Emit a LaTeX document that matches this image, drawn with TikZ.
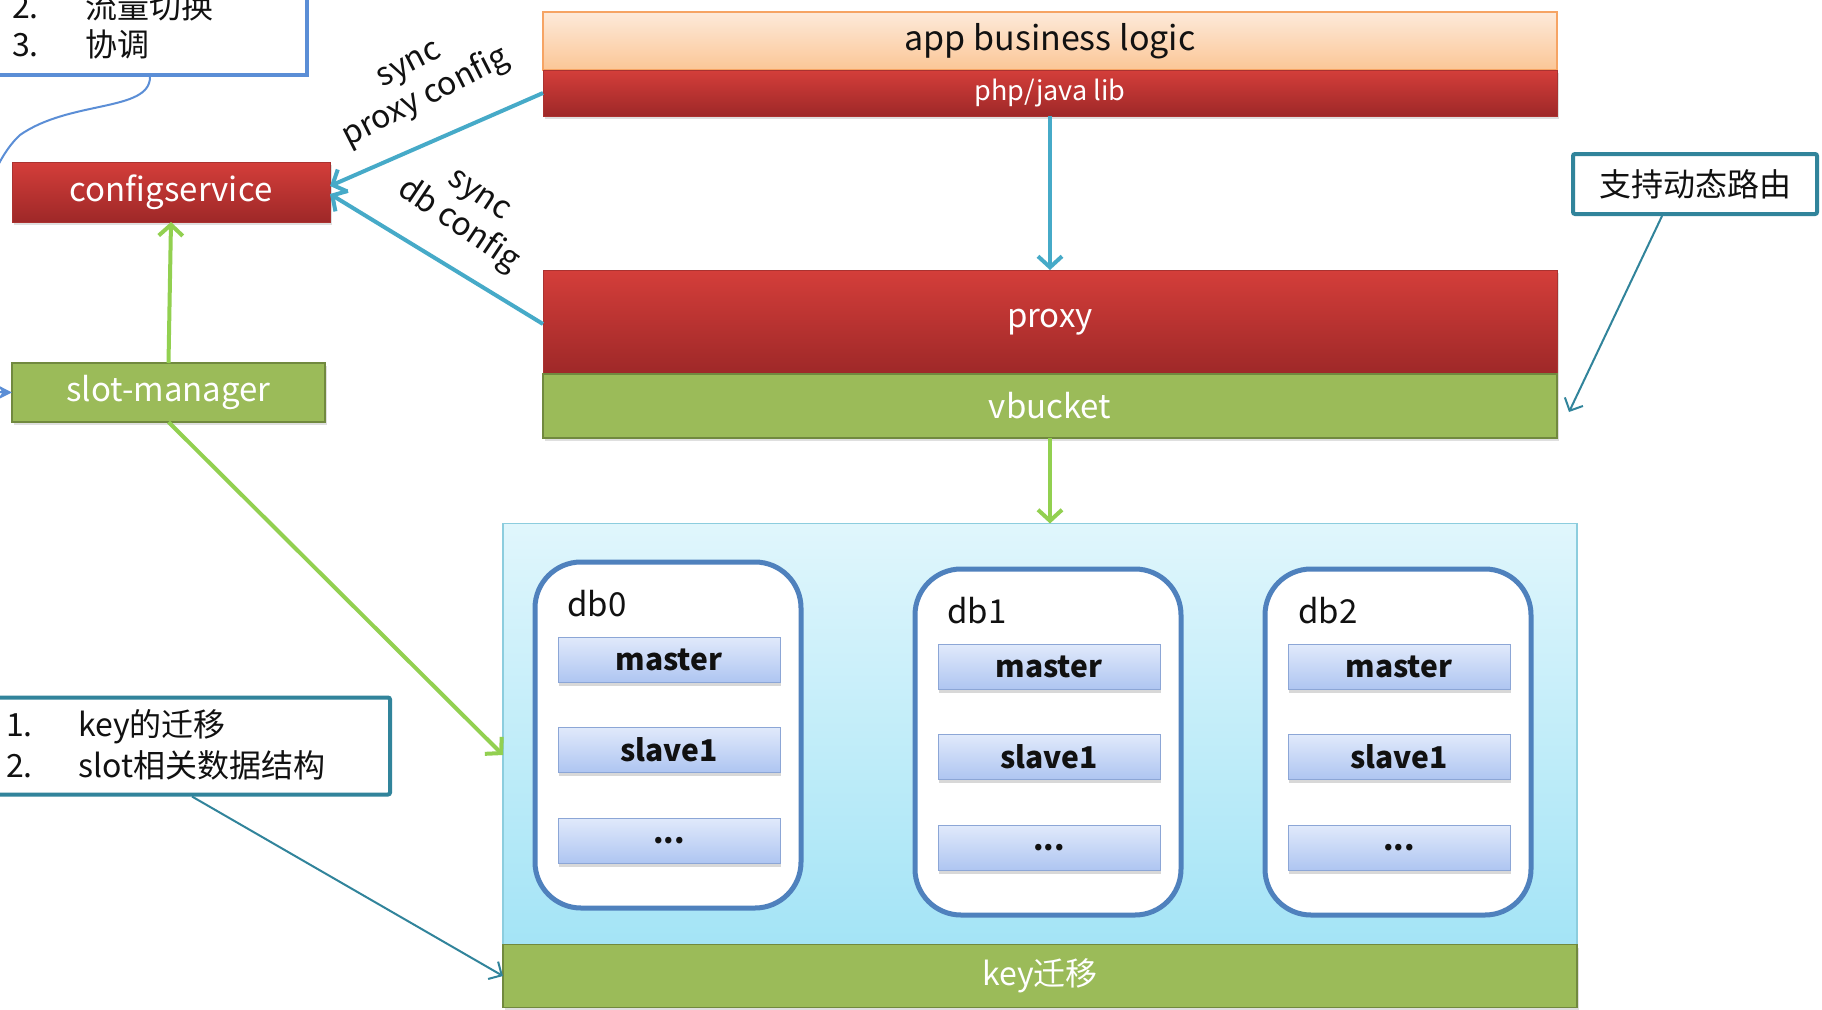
\documentclass[tikz,border=0pt]{standalone}
\usepackage{fontspec}
\setmainfont{Noto Sans CJK SC}
\usetikzlibrary{arrows.meta,shadows}

\definecolor{redtop}{RGB}{212,62,58}
\definecolor{redbot}{RGB}{158,40,40}
\definecolor{redline}{RGB}{170,50,48}
\definecolor{greenfill}{RGB}{155,187,89}
\definecolor{greenline}{RGB}{113,137,63}
\definecolor{peachtop}{RGB}{253,234,218}
\definecolor{peachbot}{RGB}{251,198,150}
\definecolor{peachline}{RGB}{246,164,100}
\definecolor{syncblue}{RGB}{70,170,200}
\definecolor{tealline}{RGB}{49,132,155}
\definecolor{arrowgreen}{RGB}{146,208,80}
\definecolor{cyantop}{RGB}{224,246,252}
\definecolor{cyanbot}{RGB}{164,228,246}
\definecolor{cyanline}{RGB}{140,205,222}
\definecolor{dbline}{RGB}{79,129,189}
\definecolor{celltop}{RGB}{224,233,251}
\definecolor{cellbot}{RGB}{174,197,241}
\definecolor{cellline}{RGB}{140,166,214}
\definecolor{noteblue}{RGB}{91,142,214}
\definecolor{inkblack}{RGB}{17,17,17}

\newcommand\fsz[2]{\fontsize{#1}{#2}\selectfont}

\begin{document}
\begin{tikzpicture}[x=1pt,y=-1pt,
  bar/.style={rectangle, inner sep=0pt, outer sep=0pt, anchor=center},
  redbar/.style={bar, draw=redline, line width=1pt, top color=redtop, bottom color=redbot, text=white,
    drop shadow={opacity=0.25, shadow xshift=2pt, shadow yshift=-3pt}},
  greenbar/.style={bar, draw=greenline, line width=1.5pt, fill=greenfill, text=white,
    drop shadow={opacity=0.25, shadow xshift=2pt, shadow yshift=-3pt}},
  peachbar/.style={bar, draw=peachline, line width=1.5pt, top color=peachtop, bottom color=peachbot, text=inkblack},
  dbbox/.style={rectangle, rounded corners=46pt, draw=dbline, line width=5pt, fill=white,
    minimum width=266pt, minimum height=346pt, anchor=center},
  cell/.style={bar, draw=cellline, line width=1pt, top color=celltop, bottom color=cellbot,
    minimum width=222pt, minimum height=45pt, font=\fsz{30}{36}\bfseries, text=inkblack,
    drop shadow={opacity=0.3, shadow xshift=1pt, shadow yshift=-3pt}},
  dblabel/.style={anchor=west, font=\fsz{33}{38}, text=inkblack, inner sep=0pt},
  note/.style={rectangle, draw=tealline, line width=4pt, fill=white, rounded corners=2pt, anchor=center},
  notetext/.style={anchor=west, font=\fsz{32}{38}, text=inkblack, inner sep=0pt},
  thickblue/.style={draw=syncblue, line width=4pt, -{Straight Barb[length=11pt,width=24pt]}},
  thickgreen/.style={draw=arrowgreen, line width=4pt, -{Straight Barb[length=11pt,width=24pt]}},
  thinteal/.style={draw=tealline, line width=2pt, -{Straight Barb[length=10pt,width=20pt]}},
  synclabel/.style={align=center, font=\fsz{32}{37}, text=inkblack, inner sep=0pt}
]
\useasboundingbox (0,0) rectangle (1822,1009);
\fill[white] (0,0) rectangle (1822,1009);

% ---------- application side ----------
\node[peachbar, minimum width=1014pt, minimum height=58pt, font=\fsz{34}{40}] (app) at (1050,41) {app business logic};
\node[redbar, minimum width=1014pt, minimum height=46pt, font=\fsz{27}{32}] (lib) at (1050,93) {php/java lib};
\node[redbar, minimum width=1014pt, minimum height=104pt, font=\fsz{33}{38}] (proxy) at (1050,322) {proxy};
\node[greenbar, minimum width=1014pt, minimum height=64pt, font=\fsz{33}{38}] (vbucket) at (1050,406) {vbucket};

% ---------- control side ----------
\node[redbar, minimum width=318pt, minimum height=60pt, font=\fsz{33}{38}] (cfg) at (171,192) {configservice};
\node[greenbar, minimum width=313pt, minimum height=59pt, font=\fsz{33}{38}] (slot) at (168.5,392.5) {slot-manager};

% ---------- storage cluster ----------
\node[bar, draw=cyanline, line width=1.5pt, top color=cyantop, bottom color=cyanbot,
      minimum width=1074pt, minimum height=421pt] (cluster) at (1040,734) {};
\node[greenbar, minimum width=1074pt, minimum height=63pt, font=\fsz{32}{38}] (keybar) at (1040,976) {key迁移};

\node[dbbox] (db0) at (668,735) {};
\node[dbbox] (db1) at (1048,742) {};
\node[dbbox] (db2) at (1398,742) {};

\node[dblabel] (db0l) at (567,604) {db0};
\node[dblabel] (db1l) at (947,611) {db1};
\node[dblabel] (db2l) at (1298,611) {db2};

\node[cell] (m0) at (669,660) {master};
\node[cell] (s0) at (669,750) {slave1};
\node[cell] (e0) at (669,841) {...};
\node[cell] (m1) at (1049,667) {master};
\node[cell] (s1) at (1049,757) {slave1};
\node[cell] (e1) at (1049,848) {...};
\node[cell] (m2) at (1399,667) {master};
\node[cell] (s2) at (1399,757) {slave1};
\node[cell] (e2) at (1399,848) {...};

% ---------- notes ----------
\node[rectangle, draw=noteblue, line width=4pt, fill=white, minimum width=320pt, minimum height=180pt,
      anchor=center] (topnote) at (147,-15) {};
\node[notetext] (tn2) at (12,6) {\makebox[73pt][l]{2.}流量切换};
\node[notetext] (tn3) at (12,44) {\makebox[73pt][l]{3.}协调};

\node[note, minimum width=406pt, minimum height=97pt] (keynote) at (187,746) {};
\node[notetext] (kn1) at (6,727) {\makebox[72pt][l]{1.}key的迁移};
\node[notetext] (kn2) at (6,765) {\makebox[72pt][l]{2.}slot相关数据结构};

\node[note, minimum width=244pt, minimum height=60pt, font=\fsz{32}{38}, text=inkblack] (route) at (1695,184) {支持动态路由};

% ---------- connectors ----------
\draw[thickblue] (lib.south) -- (proxy.north);
\draw[thickgreen] (vbucket.south) -- (cluster.north -| vbucket.south);
\draw[thickblue] (lib.west) -- ([yshift=6pt]cfg.east);
\draw[thickblue] ([yshift=-2pt]proxy.west) -- ([yshift=-2pt]cfg.east);
\draw[thickgreen] (slot.north) -- (cfg.south);
\draw[thickgreen] (slot.south) -- ([yshift=-21pt]cluster.west);
\draw[thinteal] ([xshift=5pt]keynote.south) -- (keybar.west);
\draw[thinteal] ([xshift=-33pt]route.south) -- ([xshift=12pt,yshift=-6pt]vbucket.east);
\draw[draw=noteblue, line width=2pt, -{Stealth[length=14pt,width=14pt]}]
  ([xshift=3pt]topnote.south) .. controls (150,112) and (70,100) .. (20,135)
  .. controls (-40,190) and (-50,392) .. (slot.west);

% ---------- labels on the sync arrows ----------
\node[synclabel, rotate=27] (syncproxy) at (419,84) {sync\\proxy config};
\node[synclabel, rotate=-34] (syncdb) at (467,213) {sync\\db config};

\end{tikzpicture}
\end{document}
